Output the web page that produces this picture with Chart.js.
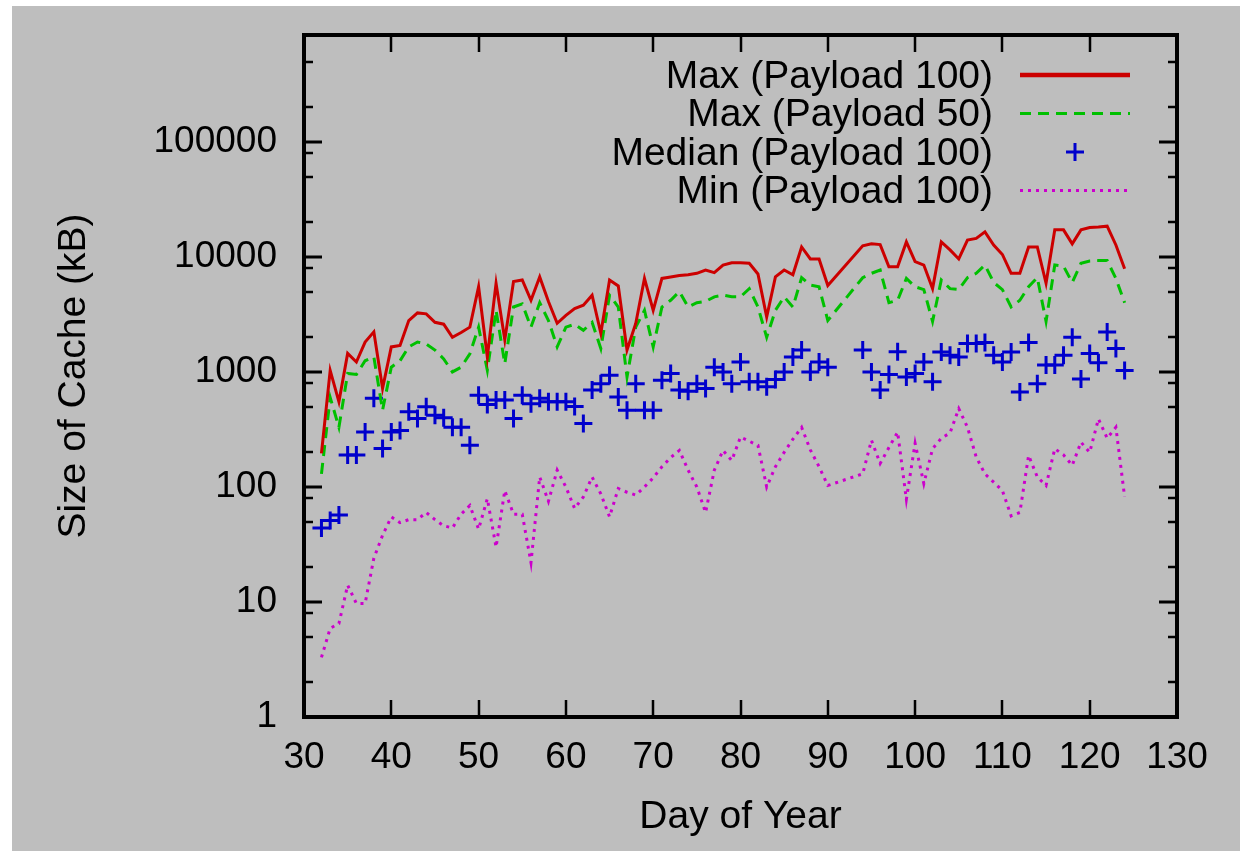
<!DOCTYPE html>
<html>
<head>
<meta charset="utf-8">
<script src="https://cdn.jsdelivr.net/npm/chart.js@4.4.1/dist/chart.umd.min.js"></script>
<style>
  html, body { margin: 0; padding: 0; background: #fff; }
  #wrap { width: 1240px; height: 851px; }
</style>
</head>
<body>
<div id="wrap"><canvas id="cache_chart" width="1240" height="851"></canvas></div>
<script>
// day of year for each sample (no data on days 91-93)
const days = [
  32, 33, 34, 35, 36, 37, 38, 39, 40, 41, 42, 43, 44, 45, 46, 47, 48, 49, 50, 51,
  52, 53, 54, 55, 56, 57, 58, 59, 60, 61, 62, 63, 64, 65, 66, 67, 68, 69, 70, 71,
  72, 73, 74, 75, 76, 77, 78, 79, 80, 81, 82, 83, 84, 85, 86, 87, 88, 89, 90,
  94, 95, 96, 97, 98, 99, 100, 101, 102, 103, 104, 105, 106, 107, 108, 109, 110, 111, 112, 113,
  114, 115, 116, 117, 118, 119, 120, 121, 122, 123, 124
];

const max100 = [
  196, 1030, 550, 1450, 1220, 1820, 2230, 720, 1650, 1700, 2800, 3260, 3200, 2700, 2600, 2000, 2200, 2450, 5500, 1350,
  5900, 1900, 6100, 6300, 4200, 6700, 4100, 2650, 3100, 3550, 3800, 4650, 2170, 6300, 5600, 1550, 2640, 6500, 3430, 6500,
  6700, 6900, 7000, 7200, 7700, 7300, 8500, 8900, 8900, 8800, 7100, 3000, 6700, 7700, 7000, 12200, 9600, 9600, 5650,
  12500, 13000, 12800, 8200, 8200, 13500, 9100, 8500, 5300, 13500, 11500, 9600, 14000, 14500, 16500, 12700, 10500, 7200, 7200, 12200,
  12200, 5900, 17200, 17200, 13000, 17200, 18000, 18200, 18500, 12700, 7900
];

const max50 = [
  130, 600, 330, 970, 950, 1250, 1350, 465, 1100, 1250, 1650, 1820, 1750, 1550, 1300, 1000, 1100, 1440, 2450, 1035,
  3430, 1180, 3670, 3900, 2450, 4000, 2800, 1650, 2450, 2600, 2300, 2700, 1600, 4650, 3670, 905, 2450, 3430, 1650, 3670,
  4200, 5000, 3670, 4000, 4100, 4500, 4650, 4500, 4500, 5300, 3670, 2000, 3430, 4500, 3670, 6600, 5700, 5500, 2800,
  6600, 7200, 7700, 4000, 4200, 6500, 5500, 5200, 2750, 6300, 5300, 5200, 6600, 7200, 8500, 6000, 5200, 3670, 4200, 5500,
  6600, 2750, 8500, 8300, 6000, 8800, 9200, 9300, 9300, 6500, 4000
];

const median100 = [
  44, 51, 57, 190, 190, 300, 590, 216, 300, 310, 450, 393, 497, 420, 400, 330, 330, 230, 626, 520,
  570, 570, 393, 626, 530, 590, 550, 550, 550, 500, 356, 695, 790, 935, 605, 465, 790, 465, 465, 848,
  970, 695, 680, 790, 718, 1100, 1000, 790, 1220, 820, 820, 745, 860, 1000, 1350, 1550, 1000, 1220, 1100,
  1550, 1000, 695, 950, 1500, 905, 970, 1220, 820, 1490, 1400, 1350, 1770, 1770, 1800, 1400, 1220, 1490, 670, 1800,
  790, 1150, 1150, 1400, 2000, 870, 1450, 1200, 2230, 1600, 1030
];

const min100 = [
  3.3, 5.9, 6.5, 14, 9.7, 9.7, 24, 38, 55, 49, 52, 52, 60, 52, 46, 44, 58, 69, 43, 79,
  30, 93, 58, 58, 22, 122, 75, 140, 100, 65, 82, 122, 87, 55, 97, 90, 85, 100, 120, 150,
  180, 208, 140, 100, 60, 140, 208, 170, 272, 250, 230, 100, 150, 200, 260, 330, 210, 150, 103,
  130, 255, 160, 220, 300, 78, 240, 107, 215, 265, 295, 480, 330, 182, 130, 110, 93, 56, 60, 188,
  122, 103, 215, 190, 154, 245, 200, 390, 265, 330, 82
];

const seriesLabels = ['Max (Payload 100)', 'Max (Payload 50)', 'Median (Payload 100)', 'Min (Payload 100)'];

const xTicks = [30, 40, 50, 60, 70, 80, 90, 100, 110, 120, 130];
const yMajorTicks = [1, 10, 100, 1000, 10000, 100000];
const yMinorTicks = [2, 5, 8, 20, 50, 80, 200, 500, 800, 2000, 5000, 8000,
                     20000, 50000, 80000, 200000, 500000];

const FAMILY = '"Liberation Sans", Arial, Helvetica, sans-serif';
const TICK_FONT = { family: FAMILY, size: 37 };
const TEXT_FONT = { family: FAMILY, size: 39 };

function toPoints(values) {
    return days.map((d, i) => ({ x: d, y: values[i] }));
}

// gray page behind everything, with the thin white margin of the original
const backgroundPlugin = {
    id: 'grayBackground',
    beforeDraw(chart) {
        const ctx = chart.ctx;
        ctx.save();
        ctx.fillStyle = '#bebebe';
        ctx.fillRect(12, 6, chart.width - 12, chart.height - 6);
        ctx.restore();
    }
};

// gnuplot style frame with inward ticks on all four sides
const framePlugin = {
    id: 'frameTicks',
    afterDatasetsDraw(chart) {
        const { ctx, chartArea } = chart;
        const { left, right, top, bottom } = chartArea;
        const xs = chart.scales.x;
        const ys = chart.scales.y;
        ctx.save();
        ctx.strokeStyle = '#000';
        ctx.lineCap = 'butt';

        ctx.lineWidth = 3;
        yMajorTicks.forEach(v => {
            const py = Math.round(ys.getPixelForValue(v));
            ctx.beginPath();
            ctx.moveTo(left, py); ctx.lineTo(left + 18, py);
            ctx.moveTo(right, py); ctx.lineTo(right - 18, py);
            ctx.stroke();
        });
        ctx.lineWidth = 2.5;
        yMinorTicks.forEach(v => {
            const py = Math.round(ys.getPixelForValue(v));
            ctx.beginPath();
            ctx.moveTo(left, py); ctx.lineTo(left + 9, py);
            ctx.moveTo(right, py); ctx.lineTo(right - 9, py);
            ctx.stroke();
        });
        xTicks.forEach(v => {
            const px = Math.round(xs.getPixelForValue(v));
            ctx.beginPath();
            ctx.moveTo(px, bottom); ctx.lineTo(px, bottom - 17);
            ctx.moveTo(px, top); ctx.lineTo(px, top + 17);
            ctx.stroke();
        });

        ctx.lineWidth = 4;
        ctx.strokeRect(left, top, right - left, bottom - top);
        ctx.restore();
    }
};

// legend inside the plot, text right aligned with the sample on its right
const legendPlugin = {
    id: 'insideLegend',
    afterDraw(chart) {
        const ctx = chart.ctx;
        const textRight = 993;
        const sampleLeft = 1020;
        const sampleRight = 1130;
        ctx.save();
        ctx.font = `${TEXT_FONT.size}px ${TEXT_FONT.family}`;
        ctx.textAlign = 'right';
        ctx.textBaseline = 'middle';
        chart.data.datasets.forEach((ds, i) => {
            const rowY = 75 + i * 38.5;
            ctx.fillStyle = '#000';
            ctx.fillText(ds.label, textRight, rowY + 2);
            ctx.strokeStyle = ds.borderColor;
            if (ds.showLine === false) {
                const cx = (sampleLeft + sampleRight) / 2;
                ctx.lineWidth = ds.pointBorderWidth;
                ctx.setLineDash([]);
                ctx.beginPath();
                ctx.moveTo(cx - ds.pointRadius, rowY); ctx.lineTo(cx + ds.pointRadius, rowY);
                ctx.moveTo(cx, rowY - ds.pointRadius); ctx.lineTo(cx, rowY + ds.pointRadius);
                ctx.stroke();
            } else {
                ctx.lineWidth = i === 0 ? 4.5 : ds.borderWidth;
                ctx.setLineDash(ds.borderDash || []);
                ctx.beginPath();
                ctx.moveTo(sampleLeft, rowY); ctx.lineTo(sampleRight, rowY);
                ctx.stroke();
            }
        });
        ctx.restore();
    }
};

const canvas = document.getElementById('cache_chart');

new Chart(canvas, {
    type: 'line',
    data: {
        datasets: [
            {
                label: seriesLabels[0],
                data: toPoints(max100),
                borderColor: '#cc0000',
                borderWidth: 3,
                pointRadius: 0,
                tension: 0,
            },
            {
                label: seriesLabels[1],
                data: toPoints(max50),
                borderColor: '#00c000',
                borderWidth: 3,
                borderDash: [11, 7],
                pointRadius: 0,
                tension: 0,
            },
            {
                label: seriesLabels[2],
                data: toPoints(median100),
                showLine: false,
                pointStyle: 'cross',
                pointRadius: 9,
                pointBorderWidth: 3,
                borderColor: '#0000cc',
                pointBorderColor: '#0000cc',
                backgroundColor: '#0000cc',
            },
            {
                label: seriesLabels[3],
                data: toPoints(min100),
                borderColor: '#cc00cc',
                borderWidth: 3,
                borderDash: [3, 5],
                pointRadius: 0,
                tension: 0,
            }
        ]
    },
    options: {
        responsive: false,
        animation: false,
        layout: { padding: { top: 35, right: 63, left: 0, bottom: 0 } },
        plugins: {
            legend: { display: false },
            tooltip: { enabled: false }
        },
        scales: {
            x: {
                type: 'linear',
                min: 30,
                max: 130,
                bounds: 'data',
                afterBuildTicks: (scale) => { scale.ticks = xTicks.map(v => ({ value: v })); },
                afterFit: (scale) => {
                    scale.height = 134;
                    scale.paddingLeft = 0;
                    scale.paddingRight = 0;
                },
                grid: { display: false, drawTicks: false },
                border: { display: false },
                ticks: {
                    padding: 19,
                    color: '#000',
                    font: TICK_FONT,
                    autoSkip: false,
                    maxRotation: 0,
                    callback: (value) => String(value)
                },
                title: {
                    display: true,
                    text: 'Day of Year',
                    color: '#000',
                    font: TEXT_FONT,
                    padding: { top: 0, bottom: 10 }
                }
            },
            y: {
                type: 'logarithmic',
                min: 1,
                max: 850000,
                bounds: 'data',
                afterBuildTicks: (scale) => { scale.ticks = yMajorTicks.map(v => ({ value: v })); },
                afterFit: (scale) => {
                    scale.width = 304;
                    scale.paddingTop = 0;
                    scale.paddingBottom = 0;
                },
                grid: { display: false, drawTicks: false },
                border: { display: false },
                ticks: {
                    padding: 27,
                    color: '#000',
                    font: TICK_FONT,
                    callback: (value) => String(value)
                },
                title: {
                    display: true,
                    text: 'Size of Cache (kB)',
                    color: '#000',
                    font: TEXT_FONT,
                    padding: { top: 51, bottom: 0 }
                }
            }
        }
    },
    plugins: [backgroundPlugin, framePlugin, legendPlugin]
});
</script>
</body>
</html>
